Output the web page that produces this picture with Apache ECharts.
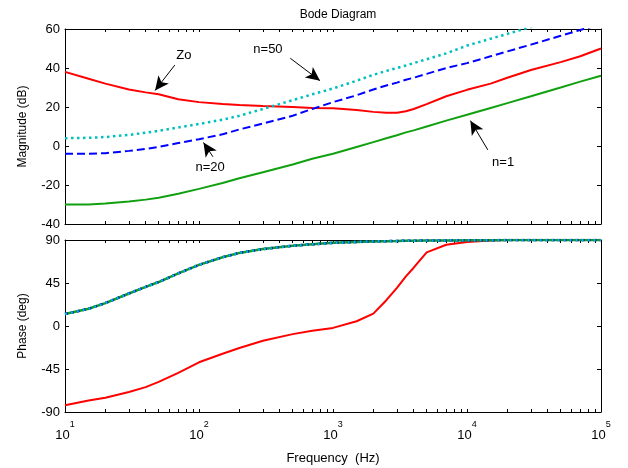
<!DOCTYPE html>
<html>
<head>
<meta charset="utf-8">
<script src="https://cdn.jsdelivr.net/npm/echarts@6/dist/echarts.min.js"></script>
<style>
  html, body { margin: 0; padding: 0; background: #fff; }
  #bode { width: 628px; height: 468px; }
</style>
</head>
<body>
<div id="bode"></div>
<script>
'use strict';

// frequency points (Hz), shared by every curve
var freqs = [10, 15, 20, 30, 40, 50, 70, 100, 150, 200, 300, 500, 700, 1000, 1500,
	2000, 2500, 3000, 3500, 4000, 5000, 7000, 10000, 15000, 20000, 30000, 50000, 70000, 100000];

// magnitude (dB)
var magZo = [38, 34.5, 32, 29, 27.5, 26.5, 24, 22.5, 21.5, 21, 20.5, 20, 19.5, 19.3, 18.5,
	17.5, 17, 17, 17.8, 19, 21.5, 25.5, 28.8, 32, 35, 39, 43, 46, 50];
var magN1 = [-30, -30, -29.5, -28.5, -27.5, -26.5, -24.5, -22, -19, -16.5, -13.5, -9.5, -6.5, -4, -0.5,
	2, 4, 5.5, 7, 8, 10, 13, 16, 19.5, 22, 25.5, 30, 33, 36];
var magN20 = [-4, -4, -3.7, -2.5, -1.5, -0.5, 1.5, 3.5, 6, 8.5, 11.5, 15.5, 19, 22.5, 26,
	29, 31, 32.5, 34, 35, 37, 40, 42.5, 46, 48.5, 52, 56.5, 59.5, 62.5];
var magN50 = [4, 4.2, 4.6, 5.7, 6.8, 7.8, 9.5, 11.3, 13.5, 15.5, 19, 23.5, 26.5, 29.5, 33.5,
	36.5, 38.5, 40, 41.3, 42.5, 44.5, 47.5, 51.5, 55, 57.5, 61, 65.5, 68.5, 71.5];

// phase (deg); the three n curves sit on top of each other
var phaseZo = [-83, -78, -75, -69, -64, -58.5, -49, -38, -29, -23, -15.5, -8.5, -5, -2, 5,
	13, 27, 40, 52, 61, 77, 85, 88, 89.5, 90, 90, 90, 90, 90];
var phaseN = [12.5, 18, 24, 34, 41, 46, 55, 64, 72, 76.5, 80.5, 84, 85.5, 87, 88,
	88.5, 88.8, 89, 89.2, 89.3, 89.5, 89.6, 89.7, 89.8, 90, 90, 90, 90, 90];

var magTicks = [-40, -20, 0, 20, 40, 60];
var phaseTicks = [-90, -45, 0, 45, 90];

// annotations: label, text position, arrow tail, arrow head (Hz, dB)
var notes = ['Zo', 'n=50', 'n=20', 'n=1'];
var noteText = [[77, 46.5], [327, 49.5], [121, -11], [18600, -8.5]];
var noteFrom = [[66, 41.5], [480, 45], [127, -5.5], [14300, -2]];
var noteTo = [[47, 28.5], [800, 33.5], [108, 1.8], [10600, 13]];

var logTicks = [];
[10, 100, 1000, 10000].forEach(function (d) {
	for (var k = 1; k < 10; k++) { logTicks.push(d * k); }
});
logTicks.push(100000);

function pairs(ys) {
	return freqs.map(function (f, i) { return [f, ys[i]]; });
}

var font = '"Liberation Sans", Arial, sans-serif';

function xAxisDef(grid, pos, labels) {
	return {
		type: 'log',
		logBase: 10,
		gridIndex: grid,
		position: pos,
		min: 10,
		max: 100000,
		axisLine: { show: true, onZero: false, lineStyle: { color: '#000', width: 1 } },
		axisTick: { show: true, inside: true, length: 3, customValues: logTicks, lineStyle: { color: '#000' } },
		splitLine: { show: false },
		axisLabel: {
			show: labels,
			margin: 8,
			formatter: function (v) {
				var e = Math.round(Math.log(v) / Math.LN10);
				return '{b|10}{s|' + e + '}';
			},
			rich: {
				b: { fontSize: 13, fontFamily: font, color: '#000', lineHeight: 22, verticalAlign: 'bottom' },
				s: { fontSize: 9, fontFamily: font, color: '#000', lineHeight: 10, verticalAlign: 'top' }
			}
		}
	};
}

function yAxisDef(grid, pos, lo, hi, step, labels, name) {
	return {
		type: 'value',
		gridIndex: grid,
		position: pos,
		min: lo,
		max: hi,
		interval: step,
		name: name,
		nameLocation: 'middle',
		nameGap: 36,
		nameTextStyle: { fontSize: 12, fontFamily: font, color: '#000' },
		axisLine: { show: true, onZero: false, lineStyle: { color: '#000', width: 1 } },
		axisTick: { show: true, inside: true, length: 4, lineStyle: { color: '#000' } },
		splitLine: { show: false },
		axisLabel: { show: labels, margin: 5, fontSize: 13, fontFamily: font, color: '#000' }
	};
}

var xAxes = [
	xAxisDef(0, 'bottom', false),
	xAxisDef(0, 'top', false),
	xAxisDef(1, 'bottom', true),
	xAxisDef(1, 'top', false)
];
xAxes[2].name = 'Frequency  (Hz)';
xAxes[2].nameLocation = 'middle';
xAxes[2].nameGap = 40;
xAxes[2].nameTextStyle = { fontSize: 13, fontFamily: font, color: '#000' };

var yAxes = [
	yAxisDef(0, 'left', magTicks[0], magTicks[magTicks.length - 1], 20, true, 'Magnitude (dB)'),
	yAxisDef(0, 'right', magTicks[0], magTicks[magTicks.length - 1], 20, false, ''),
	yAxisDef(1, 'left', phaseTicks[0], phaseTicks[phaseTicks.length - 1], 45, true, 'Phase (deg)'),
	yAxisDef(1, 'right', phaseTicks[0], phaseTicks[phaseTicks.length - 1], 45, false, '')
];

function curve(name, xi, yi, data, color, type, width) {
	return {
		name: name,
		type: 'line',
		xAxisIndex: xi,
		yAxisIndex: yi,
		data: data,
		showSymbol: false,
		smooth: false,
		clip: true,
		lineStyle: { color: color, width: width, type: type, cap: 'butt' },
		z: 2
	};
}

var red = '#ff0000', green = '#10a010', blue = '#0000ff', cyan = '#00bfbf';

var zoMag = curve('Zo', 0, 0, pairs(magZo), red, 'solid', 2);
zoMag.markLine = {
	silent: true,
	symbol: ['none', 'arrow'],
	symbolSize: [10, 14],
	lineStyle: { color: '#000', width: 1, type: 'solid' },
	label: { show: false },
	data: notes.map(function (n, i) {
		return [{ coord: noteFrom[i] }, { coord: noteTo[i] }];
	})
};
zoMag.markPoint = {
	silent: true,
	symbol: 'circle',
	symbolSize: 0,
	label: { show: true, position: 'inside', fontSize: 13, fontFamily: font, color: '#000', formatter: '{b}' },
	data: notes.map(function (n, i) {
		return { name: n, coord: noteText[i] };
	})
};

var series = [
	zoMag,
	curve('n=1', 0, 0, pairs(magN1), green, 'solid', 2),
	curve('n=20', 0, 0, pairs(magN20), blue, [8, 4], 2),
	curve('n=50', 0, 0, pairs(magN50), cyan, [2.5, 3.5], 2.5),
	curve('Zo', 2, 2, pairs(phaseZo), red, 'solid', 2),
	curve('n=1', 2, 2, pairs(phaseN), green, 'solid', 2.5),
	curve('n=20', 2, 2, pairs(phaseN), blue, [3, 3], 2.5),
	curve('n=50', 2, 2, pairs(phaseN), cyan, [2, 4], 2.5)
];

var chart = echarts.init(document.getElementById('bode'), null, { renderer: 'canvas' });
chart.setOption({
	animation: false,
	backgroundColor: '#fff',
	title: {
		text: 'Bode Diagram',
		left: 333,
		top: 4,
		textAlign: 'center',
		textStyle: { fontSize: 12, fontWeight: 'normal', fontFamily: font, color: '#000' }
	},
	grid: [
		{ left: 65, top: 29, width: 536, height: 195, show: false },
		{ left: 65, top: 240, width: 536, height: 172, show: false }
	],
	xAxis: xAxes,
	yAxis: yAxes,
	series: series
});
</script>
</body>
</html>
